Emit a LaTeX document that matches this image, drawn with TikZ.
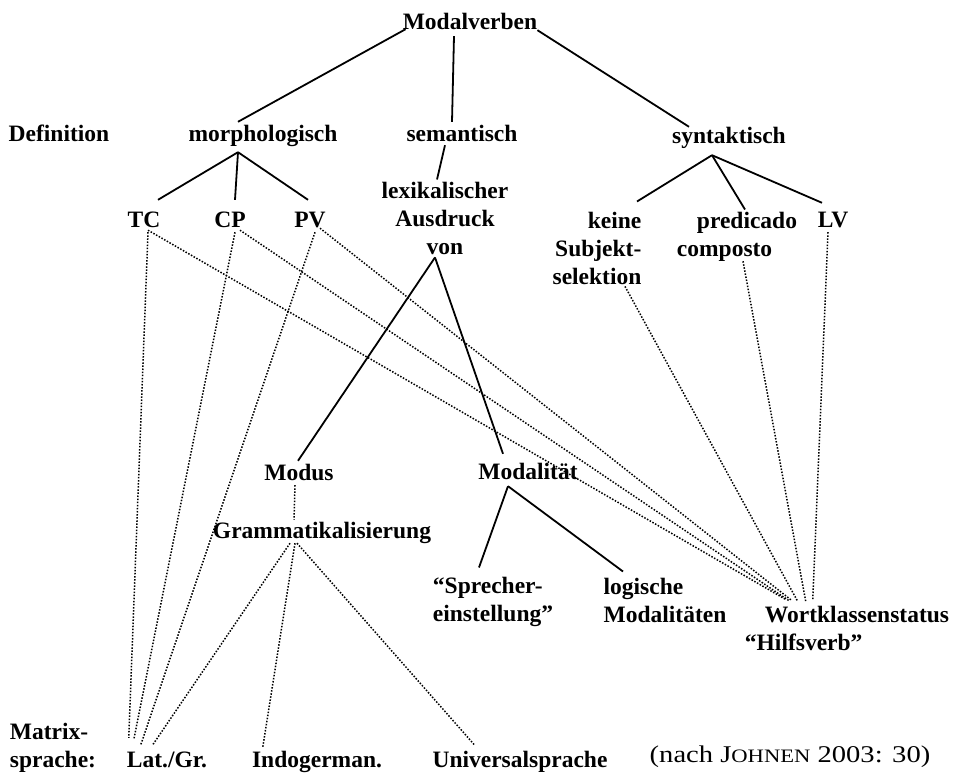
\documentclass[tikz,border=0pt]{standalone}
\usepackage{fontspec}
\setmainfont{Liberation Serif}

\newcommand\labelfont{\fontsize{23.5}{28}\selectfont\bfseries}

\tikzset{
  word/.style={font=\labelfont, inner sep=0pt, anchor=base,
               text height=16pt, text depth=5pt},
  block/.style={font=\labelfont, inner sep=0pt, anchor=base, align=#1},
  source/.style={font=\fontsize{24}{28}\selectfont, inner sep=0pt, anchor=base},
  branch/.style={line width=1.8pt},
  dots/.style={line width=1.5pt, dash pattern=on 1.5pt off 1.6pt}
}

\begin{document}
\begin{tikzpicture}[x=1pt,y=-1pt]
\useasboundingbox (0,0) rectangle (954,776);

% levels of the tree (block nodes sit on their last line)
\node[word]         (root)   at (470,30)  {Modalverben};
\node[word]         (def)    at (59,142)  {Definition};
\node[word]         (morph)  at (263,142) {morphologisch};
\node[word]         (sem)    at (462,142) {semantisch};
\node[word]         (syn)    at (729,143) {syntaktisch};
\node[word]         (tc)     at (144,227) {TC};
\node[word]         (cp)     at (230,227) {CP};
\node[word]         (pv)     at (310,227) {PV};
\node[block=center] (lex)    at (445,254) {lexikalischer\\Ausdruck\\von};
\node[block=right]  (keine)  at (597,284) {keine\\Subjekt-\\selektion};
\node[block=left]   (pred)   at (737,256) {\hspace*{20pt}predicado\\composto};
\node[word]         (lv)     at (833,227) {LV};
\node[word]         (modus)  at (299,480) {Modus};
\node[word]         (modal)  at (528,479) {Modalität};
\node[word]         (gram)   at (322,538) {Grammatikalisierung};
\node[block=left]   (sprech) at (493,621) {“Sprecher-\\einstellung”};
\node[block=left]   (logic)  at (665,622) {logische\\Modalitäten};
\node[block=left]   (wort)   at (847,650) {\hspace*{20pt}Wortklassenstatus\\“Hilfsverb”};

% bottom row
\node[block=left]   (matrix) at (53,767)  {Matrix-\\sprache:};
\node[word]         (lat)    at (167,767) {Lat./Gr.};
\node[word]         (indo)   at (317,767) {Indogerman.};
\node[word]         (univ)   at (520,767) {Universalsprache};
\node[source]       (src)    at (790,762)
  {\scalebox{1.19}[1]{(nach J{\fontsize{19}{19}\selectfont OHNEN} 2003: 30)}};

% solid branches
\draw[branch] ([xshift=3pt,yshift=6pt]root.south west) -- ([xshift=-25pt,yshift=4pt]morph.north);
\draw[branch] ([xshift=-16pt,yshift=-1pt]root.south) -- ([xshift=-10pt,yshift=4pt]sem.north);
\draw[branch] ([yshift=5pt]root.south east) -- ([xshift=-40pt]syn.north);
\draw[branch] ([xshift=-25pt,yshift=-5pt]morph.south) -- ([xshift=14pt,yshift=11pt]tc.north);
\draw[branch] ([xshift=-25pt,yshift=-5pt]morph.south) -- ([xshift=5pt,yshift=11pt]cp.north);
\draw[branch] ([xshift=-25pt,yshift=-5pt]morph.south) -- ([xshift=-2pt,yshift=11pt]pv.north);
\draw[branch] ([xshift=-17pt,yshift=2pt]sem.south) -- ([xshift=-8pt,yshift=2pt]lex.north);
\draw[branch] ([xshift=-17pt,yshift=-7pt]syn.south) -- ([xshift=40pt,yshift=10pt]keine.north);
\draw[branch] ([xshift=-17pt,yshift=-7pt]syn.south) -- ([xshift=8pt,yshift=2pt]pred.north);
\draw[branch] ([xshift=-17pt,yshift=-7pt]syn.south) -- ([xshift=-11pt,yshift=8pt]lv.north);
\draw[branch] ([xshift=-10pt,yshift=-3pt]lex.south) -- ([xshift=-1pt,yshift=3pt]modus.north);
\draw[branch] ([xshift=-10pt,yshift=-3pt]lex.south) -- ([xshift=-25pt,yshift=9pt]modal.north);
\draw[branch] ([xshift=-20pt,yshift=-2pt]modal.south) -- ([xshift=-14pt,yshift=9pt]sprech.north);
\draw[branch] ([xshift=-20pt,yshift=-2pt]modal.south) -- ([xshift=-42pt,yshift=6pt]logic.north);

% dotted links to the matrix languages
\draw[dots] ([xshift=4pt]tc.south) -- ([xshift=2pt,yshift=13pt]lat.north west);
\draw[dots] ([xshift=5pt]cp.south) -- ([xshift=7pt,yshift=11pt]lat.north west);
\draw[dots] ([xshift=5pt]pv.south) -- ([xshift=14pt,yshift=6pt]lat.north west);
\draw[dots] ([xshift=-4pt]modus.south) -- ([xshift=-28pt,yshift=2pt]gram.north);
\draw[dots] ([xshift=-32pt]gram.south) -- ([xshift=26pt,yshift=6pt]lat.north west);
\draw[dots] ([xshift=-27pt]gram.south) -- ([xshift=11pt,yshift=4pt]indo.north west);
\draw[dots] ([xshift=-25pt]gram.south) -- ([xshift=42pt,yshift=6pt]univ.north west);

% dotted links to the word class status
\draw[dots] ([xshift=4pt,yshift=2pt]tc.south) -- ([xshift=41pt,yshift=6pt]wort.north west);
\draw[dots] ([xshift=10pt,yshift=2pt]cp.south) -- ([xshift=44pt,yshift=5pt]wort.north west);
\draw[dots] ([xshift=10pt,yshift=4pt]pv.south) -- ([xshift=47pt,yshift=5pt]wort.north west);
\draw[dots] ([xshift=28pt,yshift=-2pt]keine.south) -- ([xshift=53pt,yshift=4pt]wort.north west);
\draw[dots] ([xshift=6pt]pred.south) -- ([xshift=61pt,yshift=4pt]wort.north west);
\draw[dots] ([xshift=-5pt]lv.south) -- ([xshift=68pt,yshift=5pt]wort.north west);
\end{tikzpicture}
\end{document}
